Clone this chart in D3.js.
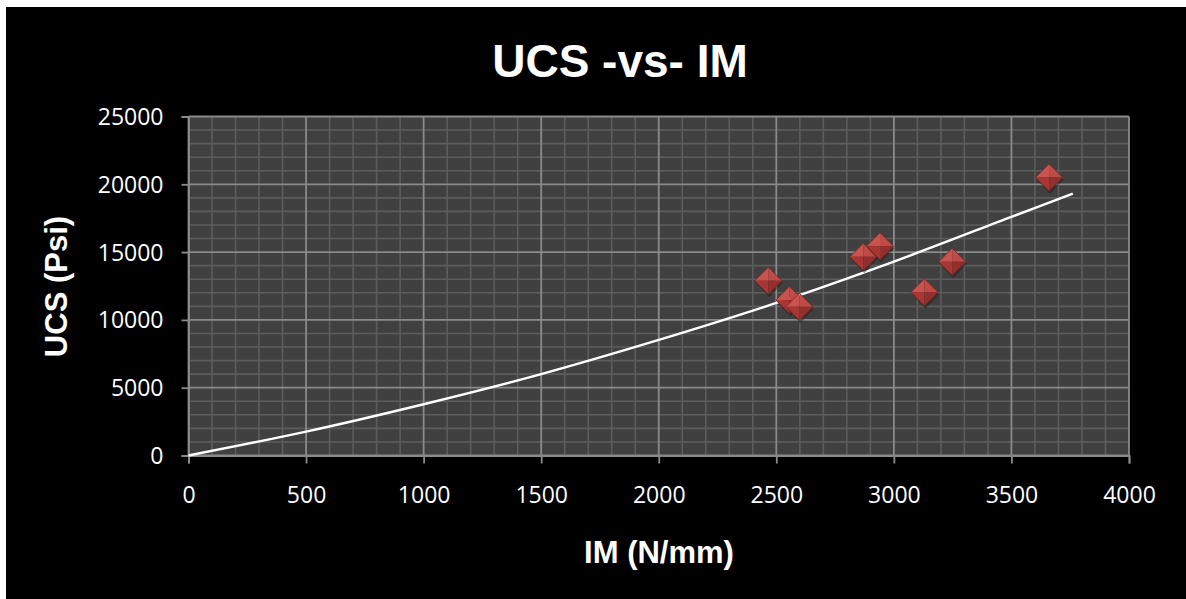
<!DOCTYPE html>
<html>
<head>
<meta charset="utf-8">
<script src="https://cdn.jsdelivr.net/npm/d3@7"></script>
<style>
  html, body { margin: 0; padding: 0; background: #ffffff; }
  svg { display: block; }
</style>
</head>
<body>
<svg id="chart" width="1186" height="599"></svg>
<script>
// ---- data ----
const imValues  = [2466, 2556, 2598, 2870, 2941, 3130, 3248, 3660];
const ucsValues = [12890, 11470, 10970, 14650, 15440, 12030, 14290, 20500];

const trendIM  = [0, 500, 1000, 1500, 2000, 2500, 3000, 3500, 3761];
const trendUCS = [0, 1760, 3780, 6000, 8520, 11250, 14300, 17600, 19320];

const xTickValues = [0, 500, 1000, 1500, 2000, 2500, 3000, 3500, 4000];
const yTickValues = [0, 5000, 10000, 15000, 20000, 25000];

const titleText = "UCS -vs- IM";
const xTitle = "IM (N/mm)";
const yTitle = "UCS (Psi)";

// ---- layout ----
const svg = d3.select("#chart");
const W = 1186, H = 599;

svg.append("rect").attr("x", 6).attr("y", 7).attr("width", W - 6).attr("height", H - 7).attr("fill", "#000000");

const x = d3.scaleLinear().domain([0, 4000]).range([188.5, 1129]);
const y = d3.scaleLinear().domain([0, 25000]).range([455.5, 116.5]);

// plot background
svg.append("rect")
  .attr("x", x(0)).attr("y", y(25000))
  .attr("width", x(4000) - x(0)).attr("height", y(0) - y(25000))
  .attr("fill", "#404040");

// minor gridlines
const g = svg.append("g");
const xMinor = d3.range(0, 4001, 100).filter(v => v % 500 !== 0);
const yMinor = d3.range(0, 25001, 1000).filter(v => v % 5000 !== 0);
g.selectAll(".xminor").data(xMinor).enter().append("line")
  .attr("x1", d => x(d)).attr("x2", d => x(d))
  .attr("y1", y(0)).attr("y2", y(25000))
  .attr("stroke", "#5c5c5c").attr("stroke-width", 1.6);
g.selectAll(".yminor").data(yMinor).enter().append("line")
  .attr("y1", d => y(d)).attr("y2", d => y(d))
  .attr("x1", x(0)).attr("x2", x(4000))
  .attr("stroke", "#5c5c5c").attr("stroke-width", 1.6);

// major gridlines
g.selectAll(".xmajor").data(xTickValues).enter().append("line")
  .attr("x1", d => x(d)).attr("x2", d => x(d))
  .attr("y1", y(0)).attr("y2", y(25000))
  .attr("stroke", "#8a8a8a").attr("stroke-width", 1.8);
g.selectAll(".ymajor").data(yTickValues).enter().append("line")
  .attr("y1", d => y(d)).attr("y2", d => y(d))
  .attr("x1", x(0)).attr("x2", x(4000))
  .attr("stroke", "#8a8a8a").attr("stroke-width", 1.8);

// axes
const xAxis = d3.axisBottom(x).tickValues(xTickValues).tickSize(8).tickPadding(23).tickFormat(d3.format("d"));
const yAxis = d3.axisLeft(y).tickValues(yTickValues).tickSize(7).tickPadding(18).tickFormat(d3.format("d"));

const gx = svg.append("g").attr("transform", `translate(0,${y(0)})`).call(xAxis);
const gy = svg.append("g").attr("transform", `translate(${x(0)},0)`).call(yAxis);
[gx, gy].forEach(a => {
  a.select(".domain").attr("stroke", "#8a8a8a").attr("stroke-width", 1.8);
  a.selectAll(".tick line").attr("stroke", "#8a8a8a").attr("stroke-width", 1.8);
  a.selectAll(".tick text")
    .attr("fill", "#ffffff")
    .style("font-family", "'Open Sans', sans-serif")
    .style("font-size", "23px");
});
gy.selectAll(".tick text").attr("dy", "0.35em");

// trendline
const trendData = trendIM.map((v, i) => [v, trendUCS[i]]);
svg.append("path")
  .datum(trendData)
  .attr("fill", "none")
  .attr("stroke", "#ffffff")
  .attr("stroke-width", 2.4)
  .attr("d", d3.line().x(d => x(d[0])).y(d => y(d[1])).curve(d3.curveCatmullRom));

// markers (beveled diamonds)
const pts = imValues.map((v, i) => ({ x: v, y: ucsValues[i] }));
const r = 13.5;
const mk = svg.append("g").selectAll("g").data(pts).enter().append("g")
  .attr("transform", d => `translate(${x(d.x)},${y(d.y)})`);
mk.append("path").attr("d", `M0,${-r + 2}L${r + 1},2L1,${r + 3}L${-r + 1},2Z`)
  .attr("fill", "#1a1a1a").attr("opacity", 0.45);
mk.append("path").attr("d", `M0,${-r}L${-r},0L0,0Z`).attr("fill", "#c9534f");
mk.append("path").attr("d", `M0,${-r}L${r},0L0,0Z`).attr("fill", "#bf4a46");
mk.append("path").attr("d", `M${-r},0L0,${r}L0,0Z`).attr("fill", "#a83733");
mk.append("path").attr("d", `M${r},0L0,${r}L0,0Z`).attr("fill", "#93302d");
mk.append("path").attr("d", `M0,${-r}L${r},0L0,${r}L${-r},0Z`)
  .attr("fill", "none").attr("stroke", "#7d2623").attr("stroke-width", 0.8);

// titles
svg.append("text")
  .attr("x", 620).attr("y", 77)
  .attr("text-anchor", "middle")
  .attr("fill", "#ffffff")
  .style("font-family", "'Liberation Sans', Arial, sans-serif")
  .style("font-weight", "bold")
  .style("font-size", "46px")
  .text(titleText);

svg.append("text")
  .attr("x", 659).attr("y", 563)
  .attr("text-anchor", "middle")
  .attr("fill", "#ffffff")
  .style("font-family", "'Liberation Sans', Arial, sans-serif")
  .style("font-weight", "bold")
  .style("font-size", "31px")
  .text(xTitle);

svg.append("text")
  .attr("transform", "translate(67,286.5) rotate(-90)")
  .attr("text-anchor", "middle")
  .attr("fill", "#ffffff")
  .style("font-family", "'Liberation Sans', Arial, sans-serif")
  .style("font-weight", "bold")
  .style("font-size", "31px")
  .text(yTitle);
</script>
</body>
</html>
